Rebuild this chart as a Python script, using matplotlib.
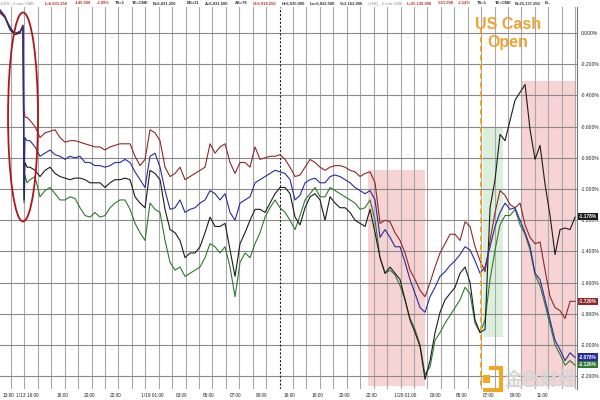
import numpy as np
import matplotlib
matplotlib.use("Agg")
import matplotlib.pyplot as plt
from matplotlib.patches import Ellipse, Rectangle
from matplotlib.transforms import blended_transform_factory

# ---------------- data ----------------
# session time axis in hours (one grid line per hour)
t_open = [-0.82, -0.45, -0.07, 0.30, 0.67, 0.89, 0.97, 1.04, 1.19]
t_main = np.linspace(1.415, 41.995, 110)
t = np.r_[t_open, t_main]

# % change series
red_open = [0.13, 0.10, 0.04, -0.01, 0.01, 0.05, -0.49, -0.54, -0.54]
red_main = [
    -0.56, -0.60, -0.67, -0.64, -0.63, -0.62, -0.67, -0.70, -0.69, -0.69,
    -0.70, -0.71, -0.72, -0.73, -0.73, -0.75, -0.73, -0.72, -0.71, -0.71,
    -0.71, -0.79, -0.85, -0.81, -0.62, -0.64, -0.69, -0.86, -0.92, -0.90,
    -0.86, -0.94, -0.92, -0.90, -0.88, -0.86, -0.71, -0.77, -0.73, -0.71,
    -0.83, -0.90, -0.83, -0.83, -0.86, -0.73, -0.81, -0.80, -0.79, -0.79,
    -0.78, -0.81, -0.86, -0.92, -0.91, -0.86, -0.81, -0.83, -0.86, -0.88,
    -0.86, -0.85, -0.85, -0.86, -0.88, -0.89, -0.92, -0.90, -0.89, -0.96,
    -1.22, -1.20, -1.21, -1.28, -1.33, -1.41, -1.52, -1.58, -1.65, -1.69,
    -1.60, -1.50, -1.41, -1.35, -1.29, -1.29, -1.33, -1.21, -1.24, -1.37,
    -1.46, -1.53, -1.33, -1.15, -1.01, -1.04, -1.10, -1.12, -1.09, -1.23,
    -1.31, -1.35, -1.34, -1.52, -1.69, -1.76, -1.78, -1.83, -1.72, -1.72,
]
blue_open = [0.15, 0.11, 0.03, 0.00, 0.01, 0.04, -1.01, -0.67, -0.69]
blue_main = [
    -0.69, -0.73, -0.79, -0.77, -0.75, -0.78, -0.79, -0.81, -0.79, -0.80,
    -0.79, -0.83, -0.83, -0.85, -0.85, -0.86, -0.85, -0.83, -0.83, -0.81,
    -0.83, -0.89, -0.94, -0.99, -0.79, -0.77, -0.86, -1.01, -1.13, -1.12,
    -1.07, -1.15, -1.13, -1.12, -1.09, -1.07, -1.01, -1.03, -1.07, -1.03,
    -1.15, -1.20, -1.09, -1.07, -1.05, -0.96, -0.94, -0.92, -0.90, -0.88,
    -0.89, -0.90, -0.94, -1.07, -1.04, -0.96, -0.94, -0.93, -0.96, -0.96,
    -0.92, -0.91, -0.92, -0.94, -0.96, -0.99, -1.01, -1.03, -1.01, -1.07,
    -1.31, -1.26, -1.31, -1.37, -1.37, -1.47, -1.58, -1.67, -1.76, -1.79,
    -1.69, -1.63, -1.56, -1.53, -1.49, -1.46, -1.42, -1.37, -1.39, -1.46,
    -1.54, -1.50, -1.37, -1.24, -1.15, -1.09, -1.13, -1.12, -1.20, -1.28,
    -1.37, -1.54, -1.58, -1.71, -1.84, -1.97, -2.03, -2.10, -2.05, -2.08,
]
black_open = [0.14, 0.10, 0.02, -0.01, 0.00, 0.05, -1.07, -0.83, -0.86]
black_main = [
    -0.86, -0.88, -0.92, -0.88, -0.86, -0.90, -0.92, -0.93, -0.94, -0.93,
    -0.93, -0.94, -0.96, -0.96, -0.96, -0.99, -0.96, -0.94, -0.94, -0.93,
    -0.94, -1.05, -1.09, -1.12, -0.88, -0.90, -0.94, -1.13, -1.26, -1.28,
    -1.33, -1.44, -1.41, -1.41, -1.37, -1.28, -1.18, -1.24, -1.24, -1.22,
    -1.39, -1.56, -1.35, -1.28, -1.20, -1.13, -1.13, -1.15, -1.09, -1.03,
    -0.99, -0.99, -1.03, -1.18, -1.23, -1.12, -1.05, -1.03, -1.07, -1.20,
    -1.05, -1.09, -1.12, -1.12, -1.15, -1.20, -1.22, -1.24, -1.13, -1.28,
    -1.44, -1.54, -1.50, -1.54, -1.58, -1.71, -1.84, -1.92, -2.01, -2.22,
    -2.10, -1.92, -1.79, -1.71, -1.67, -1.63, -1.54, -1.50, -1.60, -1.84,
    -1.92, -1.90, -1.12, -0.94, -0.65, -0.69, -0.56, -0.43, -0.38, -0.33,
    -0.62, -0.81, -0.72, -0.97, -1.17, -1.42, -1.26, -1.25, -1.26, -1.18,
]
green_open = [0.13, 0.10, 0.03, -0.01, 0.01, 0.04, -1.09, -0.91, -0.96]
green_main = [
    -0.94, -0.92, -1.05, -1.01, -0.99, -1.03, -1.07, -1.07, -1.05, -1.06,
    -1.12, -1.17, -1.18, -1.15, -1.18, -1.17, -1.12, -1.09, -1.07, -1.07,
    -1.13, -1.22, -1.28, -1.33, -1.09, -1.13, -1.15, -1.33, -1.47, -1.52,
    -1.50, -1.56, -1.54, -1.52, -1.50, -1.44, -1.35, -1.37, -1.41, -1.37,
    -1.50, -1.69, -1.47, -1.41, -1.44, -1.35, -1.28, -1.18, -1.12, -1.07,
    -1.12, -1.15, -1.20, -1.26, -1.17, -1.07, -1.03, -0.99, -1.05, -1.05,
    -0.99, -1.01, -1.03, -1.05, -1.07, -1.09, -1.13, -1.12, -1.07, -1.20,
    -1.44, -1.54, -1.52, -1.55, -1.62, -1.71, -1.83, -1.90, -2.00, -2.19,
    -2.14, -1.97, -1.92, -1.86, -1.81, -1.76, -1.71, -1.63, -1.67, -1.86,
    -1.92, -1.84, -1.58, -1.39, -1.23, -1.17, -1.17, -1.13, -1.23, -1.29,
    -1.39, -1.55, -1.62, -1.74, -1.87, -2.00, -2.06, -2.13, -2.10, -2.13,
]
last_labels = ["-1.178%", "-1.720%", "-2.078%", "-2.126%"]
last_values = [-1.178, -1.720, -2.078, -2.126]

y_ticks = [0.0, -0.2, -0.4, -0.6, -0.8, -1.0, -1.2, -1.4, -1.6, -1.8, -2.0, -2.2]
x_label_pos = [-0.22, 1.23, 3.83, 5.81, 7.82, 10.50, 12.73, 14.74, 16.75, 18.69,
               20.70, 22.82, 24.80, 26.81, 29.34, 31.65, 33.58, 35.59, 37.60, 39.54]
x_labels = ["13:00", "1/13 16:00", "18:00", "20:00", "22:00", "1/19 01:00", "03:00",
            "05:00", "07:00", "09:00", "16:00", "18:00", "20:00", "22:00",
            "1/20 01:00", "03:00", "05:00", "07:00", "09:00", "11:00"]

# shaded zones: (t0, t1, top %, bottom %)
pink_zones = [(26.58, 30.83, -0.878, -2.26), (38.05, 42.07, -0.308, -2.26)]
green_zones = [(35.15, 36.63, -0.603, -1.949)]
cash_open_t = 35.0
marker_t = 20.0

# ---------------- figure ----------------
W, H = 600, 400
fig = plt.figure(figsize=(6, 4), dpi=100)
top_px, bot_px, right_px = 7, 389, 577
ax = fig.add_axes([0.0, 1 - bot_px / H, right_px / W, (bot_px - top_px) / H])
ax.set_xlim(-0.82, 42.14)
ax.set_ylim(-2.282, 0.167)

for z0, z1, ytop, ybot in pink_zones:
    ax.add_patch(Rectangle((z0, ybot), z1 - z0, ytop - ybot, facecolor="#f7d3d3",
                           edgecolor="none", zorder=0.2))
for z0, z1, ytop, ybot in green_zones:
    ax.add_patch(Rectangle((z0, ybot), z1 - z0, ytop - ybot, facecolor="#dcefdc",
                           edgecolor="none", zorder=0.2))

for h in range(0, 43):
    if h == marker_t:
        continue
    ax.axvline(h, color="#a8a8a8", lw=0.8, zorder=0.5)
for yv in y_ticks:
    ax.axhline(yv, color="#8a8a8a", lw=0.8, zorder=0.5)
ax.axvline(marker_t, color="#222222", lw=0.8, ls=(0, (2, 1.5)), zorder=0.6)

ax.plot(t, np.r_[green_open, green_main], color="#2e7a2e", lw=0.8, zorder=2)
ax.plot(t, np.r_[black_open, black_main], color="#1c1c1c", lw=0.8, zorder=2.1)
ax.plot(t, np.r_[red_open, red_main], color="#8e2828", lw=0.8, zorder=2.2)
ax.plot(t, np.r_[blue_open, blue_main], color="#2a2a9c", lw=0.8, zorder=2.3)

ax.plot([cash_open_t, cash_open_t], [0.03, -2.282], color="#f0a020", lw=1.3,
        ls=(0, (3, 2)), zorder=3)

ax.add_patch(Ellipse((0.894, -0.538), 2.23, 1.34, facecolor="none",
                     edgecolor="#b01818", lw=1.3, zorder=4))

ax.text(37.0, 0.055, "US Cash", color="#eea235", fontsize=11.5, fontweight="bold",
        family="Liberation Sans", ha="center", va="center", zorder=5)
ax.text(37.0, -0.062, "Open", color="#eea235", fontsize=11.5, fontweight="bold",
        family="Liberation Sans", ha="center", va="center", zorder=5)

# axes styling
for s in ["left", "top", "bottom"]:
    ax.spines[s].set_visible(False)
ax.spines["right"].set_color("#777777")
ax.spines["right"].set_linewidth(0.8)
ax.yaxis.tick_right()
ax.set_yticks(y_ticks)
ax.set_yticklabels([f"{v:.3f}%" if v != 0 else "0.000%" for v in y_ticks],
                   fontsize=3.6, family="Liberation Sans", color="#222222")
ax.tick_params(axis="y", length=0, pad=3)
ax.set_xticks(x_label_pos)
ax.set_xticklabels(x_labels, fontsize=3.4, family="Liberation Sans", color="#222222")
ax.tick_params(axis="x", length=0, pad=3)

# last-value boxes
trans = blended_transform_factory(ax.transAxes, ax.transData)
box_colors = ["#1c1c1c", "#8e2828", "#2a2a9c", "#2e7a2e"]
for lab, val, c in zip(last_labels, last_values, box_colors):
    ax.text(1.004, val, lab, transform=trans, fontsize=3.4, color="white",
            family="Liberation Sans", fontweight="bold", va="center", ha="left",
            bbox=dict(boxstyle="square,pad=0.25", facecolor=c, edgecolor="none"),
            zorder=6, clip_on=False)

# header
header = [
    (0, "@ES - 2 min CME", "#b0b0b0"), (45, "L=6,831.250", "#c03030"),
    (75, "-145.500", "#c03030"), (97, "-2.09%", "#c03030"), (115, "TS=1", "#333333"),
    (132, "TE=CME", "#333333"), (153, "B=6,831.250", "#333333"), (187, "BS=31", "#333333"),
    (205, "A=6,831.500", "#333333"), (235, "AS=78", "#333333"),
    (253, "O=6,918.250", "#c03030"), (282, "H=6,935.000", "#333333"),
    (310, "Lo=6,822.500", "#333333"), (340, "V=2,162,906", "#333333"),
    (368, "@NQ - 2 min CME", "#b0b0b0"), (407, "L=25,138.000", "#c03030"),
    (438, "-551.000", "#c03030"), (458, "-2.14%", "#c03030"), (477, "TS=1", "#333333"),
    (495, "TE=CME", "#333333"), (515, "B=25,137.250", "#333333"), (545, "B...", "#333333"),
]
for xp, txt, c in header:
    fig.text(xp / W, 1 - 3.5 / H, txt, fontsize=3.0, color=c, fontweight="bold",
             family="Liberation Sans", ha="left", va="center")

# logo
logo_c = "#f3a71c"
for x0, y0, x1, y1 in [(489, 366, 503, 370), (499, 366, 503, 392),
                       (483, 388, 503, 392), (483, 375, 490, 383)]:
    fig.add_artist(Rectangle((x0 / W, 1 - y1 / H), (x1 - x0) / W, (y1 - y0) / H,
                             transform=fig.transFigure, facecolor=logo_c,
                             edgecolor="none", zorder=10))
fig.text(541 / W, 1 - 380 / H, "金色财经", fontsize=13, color="#d6d6d6",
         family="Noto Sans CJK SC", fontweight="bold", ha="center", va="center",
         zorder=10)

fig.savefig("out.png", dpi=100)
